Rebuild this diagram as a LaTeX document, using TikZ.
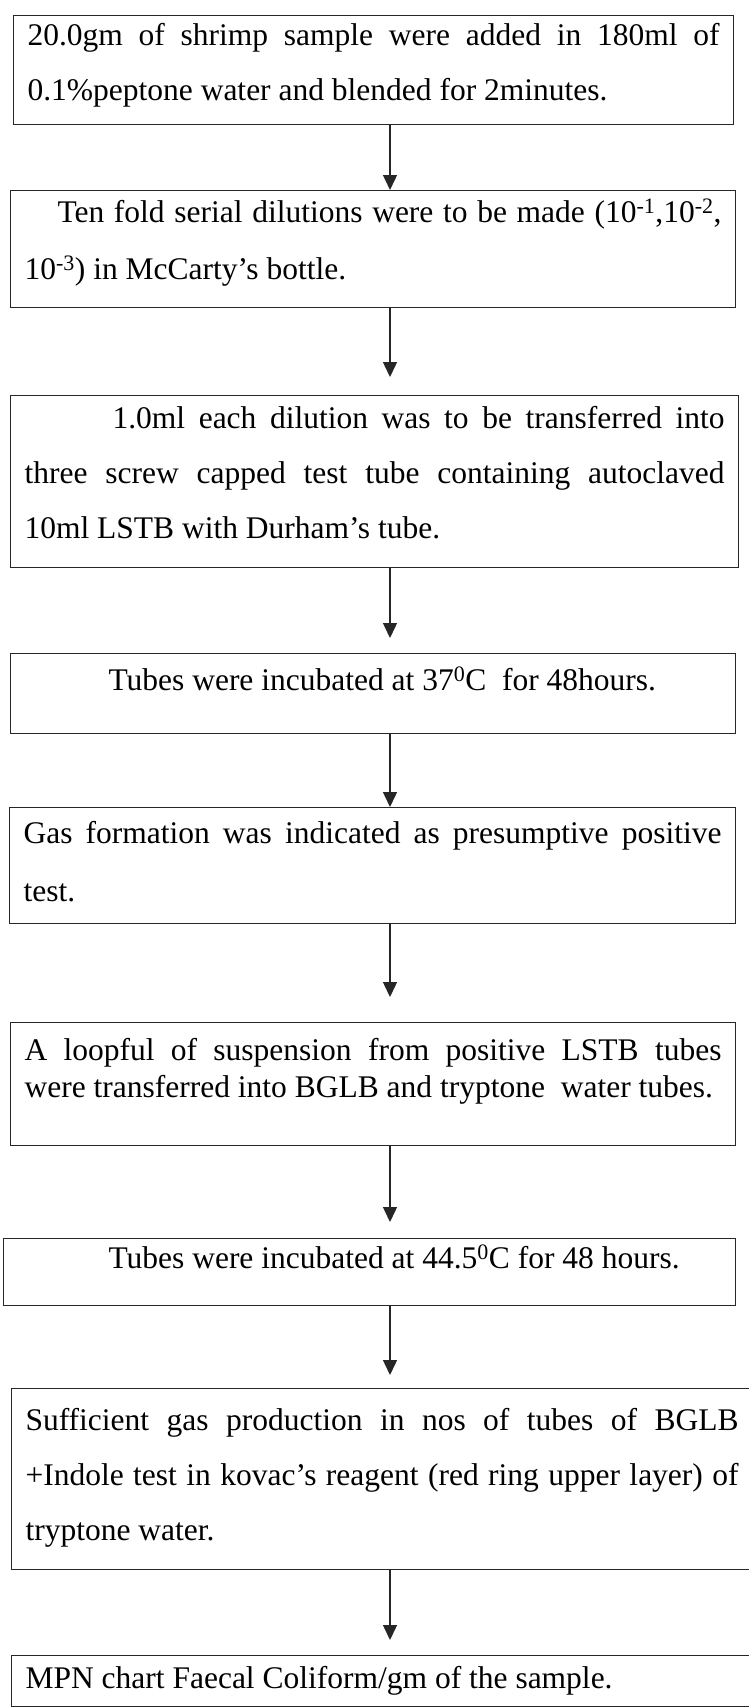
\documentclass[tikz,border=0pt]{standalone}
\usepackage{fontspec}
\setmainfont{Liberation Serif}
\usetikzlibrary{arrows.meta}

% text of a flow box: box height, text width, first line height, line skip, text
\newcommand{\flowtext}[5]{\parbox[c][#1][t]{#2}{\fontsize{31.5pt}{#4}\selectfont\rule{0pt}{#3}#5}}

\begin{document}
\begin{tikzpicture}[
    x=1pt, y=-1pt,
    stepbox/.style={
        draw=black!85,
        line width=1.1pt,
        anchor=north west,
        inner xsep=14pt,
        inner ysep=0pt
    },
    arrow/.style={-{Triangle[length=15pt, width=14pt]}, line width=1.4pt, color=black!85}
]

\useasboundingbox[fill=white] (0,0) rectangle (749,1708);

\coordinate (ax) at (390,0);

% Steps
\node[stepbox] (s1) at (13,15) {\flowtext{109pt}{692pt}{30pt}{55pt}{%
    20.0gm of shrimp sample were added in 180ml of\linebreak
    0.1\%peptone water and blended for 2minutes.}};

\node[stepbox] (s2) at (10,190) {\flowtext{117pt}{697pt}{32pt}{57pt}{%
    \hspace*{33pt}Ten fold serial dilutions were to be made (10\textsuperscript{-1},10\textsuperscript{-2},\linebreak
    10\textsuperscript{-3}) in McCarty’s bottle.}};

\node[stepbox] (s3) at (10,395) {\flowtext{172pt}{700pt}{33pt}{55pt}{%
    \hspace*{88pt}1.0ml each dilution was to be transferred into\linebreak
    three screw capped test tube containing autoclaved\linebreak
    10ml LSTB with Durham’s tube.}};

\node[stepbox] (s4) at (10,653) {\flowtext{80pt}{697pt}{37pt}{37pt}{%
    \hspace*{84pt}Tubes were incubated at 37\textsuperscript{0}C\ \ for 48hours.}};

\node[stepbox] (s5) at (9,807) {\flowtext{116pt}{698pt}{36pt}{58pt}{%
    Gas formation was indicated as presumptive positive\linebreak
    test.}};

\node[stepbox] (s6) at (10,1022) {\flowtext{123pt}{697pt}{38pt}{37pt}{%
    A loopful of suspension from positive LSTB tubes\linebreak
    were transferred into BGLB and tryptone\ \ water tubes.}};

\node[stepbox] (s7) at (3,1238) {\flowtext{67pt}{704pt}{30pt}{37pt}{%
    \hspace*{91pt}Tubes were incubated at 44.5\textsuperscript{0}C for 48 hours.}};

\node[stepbox] (s8) at (11,1388) {\flowtext{181pt}{713pt}{42pt}{55pt}{%
    Sufficient gas production in nos of tubes of BGLB\linebreak
    +Indole test in kovac’s reagent (red ring upper layer) of\linebreak
    tryptone water.}};

\node[stepbox] (s9) at (11,1655) {\flowtext{51pt}{713pt}{33pt}{37pt}{%
    MPN chart Faecal Coliform/gm of the sample.}};

% Arrows
\draw[arrow] (s1.south -| ax) -- (s2.north -| ax);
\draw[arrow, shorten >=18pt] (s2.south -| ax) -- (s3.north -| ax);
\draw[arrow, shorten >=15pt] (s3.south -| ax) -- (s4.north -| ax);
\draw[arrow] (s4.south -| ax) -- (s5.north -| ax);
\draw[arrow, shorten >=25pt] (s5.south -| ax) -- (s6.north -| ax);
\draw[arrow, shorten >=16pt] (s6.south -| ax) -- (s7.north -| ax);
\draw[arrow, shorten >=13pt] (s7.south -| ax) -- (s8.north -| ax);
\draw[arrow, shorten >=15pt] (s8.south -| ax) -- (s9.north -| ax);

\end{tikzpicture}
\end{document}
